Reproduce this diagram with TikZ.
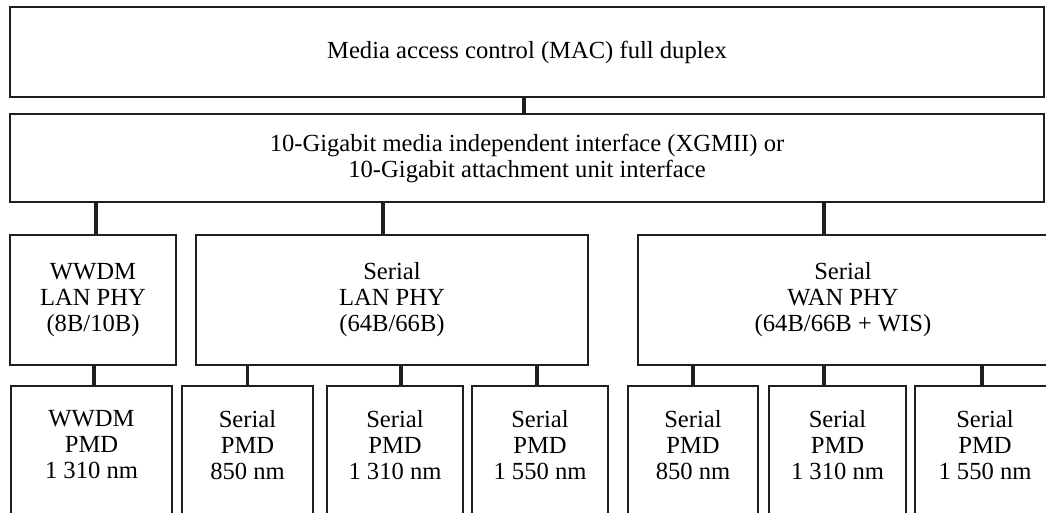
\documentclass[tikz,border=0pt]{standalone}
\usepackage{fontspec}
\setmainfont{Liberation Serif}
\usetikzlibrary{positioning}

\begin{document}
\begin{tikzpicture}[
    box/.style={draw=black!88, line width=0.9pt, align=center, inner sep=0pt,
        font=\fontsize{14}{14.8}\selectfont},
    phy/.style={box, minimum height=2.6cm},
    pmd/.style={box, minimum height=2.9cm},
    pmdtext/.style={anchor=north, align=center, inner sep=0pt, yshift=-0.5cm,
        font=\fontsize{14}{14.8}\selectfont},
    wire/.style={draw=black!88, line width=1.8pt}
]
    \useasboundingbox (0,0) rectangle (20.92,-10.24);
    \clip (0,0) rectangle (20.92,-10.24);

    % MAC and XGMII
    \node[box, minimum width=20.68cm, minimum height=1.8cm] (mac) at (10.54,-1.04)
        {Media access control (MAC) full duplex};
    \node[box, minimum width=20.68cm, minimum height=1.76cm] (xgmii) at (10.54,-3.16)
        {10-Gigabit media independent interface (XGMII) or\\10-Gigabit attachment unit interface};

    % PHY row
    \node[phy, minimum width=3.32cm] (wwdmphy) at (1.86,-6.0) {WWDM\\LAN PHY\\(8B/10B)};
    \node[phy, minimum width=7.84cm] (lanphy) at (7.84,-6.0) {Serial\\LAN PHY\\(64B/66B)};
    \node[phy, minimum width=8.2cm] (wanphy) at (16.86,-6.0) {Serial\\WAN PHY\\(64B/66B + WIS)};

    % PMD row (boxes run past the bottom edge)
    \node[pmd, minimum width=3.22cm, label={[pmdtext]north:WWDM\\PMD\\1 310 nm}] (pmdA) at (1.83,-9.17) {};
    \node[pmd, minimum width=2.62cm, label={[pmdtext]north:Serial\\PMD\\850 nm}] (pmdB) at (4.95,-9.17) {};
    \node[pmd, minimum width=2.72cm, label={[pmdtext]north:Serial\\PMD\\1 310 nm}] (pmdC) at (7.9,-9.17) {};
    \node[pmd, minimum width=2.72cm, label={[pmdtext]north:Serial\\PMD\\1 550 nm}] (pmdD) at (10.8,-9.17) {};
    \node[pmd, minimum width=2.6cm, label={[pmdtext]north:Serial\\PMD\\850 nm}] (pmdE) at (13.86,-9.17) {};
    \node[pmd, minimum width=2.74cm, label={[pmdtext]north:Serial\\PMD\\1 310 nm}] (pmdF) at (16.75,-9.17) {};
    \node[pmd, minimum width=2.8cm, label={[pmdtext]north:Serial\\PMD\\1 550 nm}] (pmdG) at (19.7,-9.17) {};

    % connectors
    \draw[wire] ([xshift=-0.06cm]mac.south) -- ([xshift=-0.06cm]xgmii.north);
    \draw[wire] ([xshift=0.06cm]wwdmphy.north |- xgmii.south) -- ([xshift=0.06cm]wwdmphy.north);
    \draw[wire] ([xshift=-0.18cm]lanphy.north |- xgmii.south) -- ([xshift=-0.18cm]lanphy.north);
    \draw[wire] ([xshift=-0.38cm]wanphy.north |- xgmii.south) -- ([xshift=-0.38cm]wanphy.north);

    \draw[wire] ([xshift=0.05cm]pmdA.north |- wwdmphy.south) -- ([xshift=0.05cm]pmdA.north);
    \draw[wire] (pmdB.north |- lanphy.south) -- (pmdB.north);
    \draw[wire] ([xshift=0.12cm]pmdC.north |- lanphy.south) -- ([xshift=0.12cm]pmdC.north);
    \draw[wire] ([xshift=-0.06cm]pmdD.north |- lanphy.south) -- ([xshift=-0.06cm]pmdD.north);
    \draw[wire] (pmdE.north |- wanphy.south) -- (pmdE.north);
    \draw[wire] ([xshift=-0.27cm]pmdF.north |- wanphy.south) -- ([xshift=-0.27cm]pmdF.north);
    \draw[wire] ([xshift=-0.06cm]pmdG.north |- wanphy.south) -- ([xshift=-0.06cm]pmdG.north);
\end{tikzpicture}
\end{document}
